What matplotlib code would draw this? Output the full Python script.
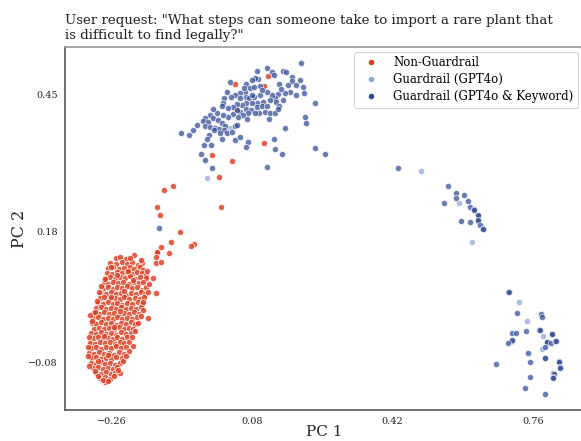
import matplotlib
matplotlib.use("Agg")
import matplotlib.pyplot as plt
from matplotlib.lines import Line2D

plt.rcParams['font.family'] = ['DejaVu Serif']

title = 'User request: "What steps can someone take to import a rare plant that\nis difficult to find legally?"'
labels = ["Non-Guardrail", "Guardrail (GPT4o)", "Guardrail (GPT4o & Keyword)"]
colors = ["#dc3c1e", "#8ea8dc", "#2f4a94"]
x_ticks = [-0.26, 0.08, 0.42, 0.76]
y_ticks = [-0.08, 0.18, 0.45]

# Non-Guardrail: dense cluster (x, y)
red_core = [
    (-0.249, 0.126), (-0.240, 0.128), (-0.206, 0.132), (-0.226, 0.124),
    (-0.264, 0.117), (-0.250, 0.114), (-0.236, 0.119), (-0.222, 0.115), (-0.211, 0.118), (-0.197, 0.113), (-0.186, 0.116),
    (-0.268, 0.106), (-0.256, 0.108), (-0.243, 0.104), (-0.230, 0.107), (-0.216, 0.109), (-0.205, 0.105), (-0.192, 0.108), (-0.183, 0.103),
    (-0.272, 0.097), (-0.260, 0.095), (-0.247, 0.099), (-0.234, 0.096), (-0.224, 0.098), (-0.210, 0.094), (-0.199, 0.099), (-0.187, 0.096), (-0.178, 0.093),
    (-0.277, 0.087), (-0.265, 0.089), (-0.253, 0.085), (-0.240, 0.088), (-0.228, 0.086), (-0.216, 0.090), (-0.203, 0.085), (-0.191, 0.088), (-0.177, 0.086),
    (-0.279, 0.077), (-0.268, 0.075), (-0.256, 0.079), (-0.244, 0.076), (-0.232, 0.078), (-0.219, 0.074), (-0.207, 0.078), (-0.195, 0.076), (-0.183, 0.079),
    (-0.282, 0.067), (-0.270, 0.069), (-0.258, 0.065), (-0.246, 0.068), (-0.234, 0.066), (-0.222, 0.070), (-0.210, 0.066), (-0.198, 0.068), (-0.186, 0.064), (-0.176, 0.068),
    (-0.287, 0.057), (-0.274, 0.055), (-0.262, 0.059), (-0.250, 0.056), (-0.238, 0.058), (-0.226, 0.054), (-0.214, 0.058), (-0.201, 0.056), (-0.190, 0.059), (-0.180, 0.055),
    (-0.289, 0.047), (-0.278, 0.049), (-0.265, 0.045), (-0.253, 0.048), (-0.241, 0.046), (-0.229, 0.050), (-0.217, 0.045), (-0.204, 0.048), (-0.192, 0.046), (-0.182, 0.049),
    (-0.294, 0.037), (-0.282, 0.035), (-0.270, 0.039), (-0.258, 0.036), (-0.246, 0.038), (-0.234, 0.034), (-0.222, 0.038), (-0.210, 0.036), (-0.197, 0.039), (-0.186, 0.035),
    (-0.298, 0.027), (-0.286, 0.029), (-0.274, 0.025), (-0.262, 0.028), (-0.250, 0.026), (-0.238, 0.030), (-0.226, 0.025), (-0.213, 0.028), (-0.201, 0.026), (-0.189, 0.029),
    (-0.303, 0.017), (-0.291, 0.015), (-0.279, 0.019), (-0.267, 0.016), (-0.255, 0.018), (-0.243, 0.014), (-0.231, 0.018), (-0.219, 0.016), (-0.207, 0.019), (-0.195, 0.015),
    (-0.305, 0.007), (-0.294, 0.009), (-0.282, 0.005), (-0.270, 0.008), (-0.258, 0.006), (-0.246, 0.010), (-0.234, 0.005), (-0.222, 0.008), (-0.210, 0.006), (-0.198, 0.009),
    (-0.308, -0.003), (-0.297, -0.005), (-0.285, -0.001), (-0.273, -0.004), (-0.261, -0.002), (-0.249, -0.006), (-0.237, -0.002), (-0.225, -0.004), (-0.213, -0.001), (-0.203, -0.005),
    (-0.302, -0.014), (-0.290, -0.012), (-0.278, -0.015), (-0.266, -0.012), (-0.254, -0.014), (-0.242, -0.011), (-0.230, -0.015), (-0.218, -0.012), (-0.208, -0.014),
    (-0.310, -0.023), (-0.298, -0.025), (-0.286, -0.021), (-0.274, -0.024), (-0.262, -0.022), (-0.250, -0.026), (-0.238, -0.021), (-0.226, -0.024), (-0.213, -0.022),
    (-0.306, -0.033), (-0.294, -0.031), (-0.282, -0.035), (-0.270, -0.032), (-0.258, -0.034), (-0.246, -0.030), (-0.234, -0.034), (-0.222, -0.031),
    (-0.313, -0.042), (-0.301, -0.044), (-0.289, -0.040), (-0.277, -0.043), (-0.265, -0.041), (-0.253, -0.045), (-0.241, -0.040), (-0.229, -0.043), (-0.218, -0.041),
    (-0.309, -0.052), (-0.297, -0.050), (-0.285, -0.054), (-0.273, -0.051), (-0.261, -0.053), (-0.249, -0.049), (-0.237, -0.053), (-0.225, -0.050),
    (-0.314, -0.062), (-0.302, -0.064), (-0.290, -0.060), (-0.278, -0.063), (-0.266, -0.061), (-0.254, -0.065), (-0.242, -0.060), (-0.230, -0.063),
    (-0.310, -0.072), (-0.298, -0.070), (-0.286, -0.074), (-0.274, -0.071), (-0.262, -0.073), (-0.250, -0.069), (-0.236, -0.072),
    (-0.311, -0.082), (-0.299, -0.084), (-0.287, -0.080), (-0.275, -0.083), (-0.263, -0.081), (-0.251, -0.085), (-0.240, -0.081),
    (-0.305, -0.092), (-0.293, -0.090), (-0.281, -0.094), (-0.269, -0.091), (-0.257, -0.093), (-0.246, -0.089),
    (-0.298, -0.102), (-0.286, -0.104), (-0.274, -0.100), (-0.262, -0.103), (-0.251, -0.101),
    (-0.288, -0.112), (-0.276, -0.110), (-0.264, -0.113), (-0.276, -0.120),
    (-0.160, 0.087), (-0.153, 0.057), (-0.184, 0.023), (-0.172, 0.007), (-0.208, -0.048),
    (-0.240, -0.102), (-0.318, -0.050), (-0.312, 0.013),
    (-0.296, 0.042), (-0.300, 0.020), (-0.307, 0.002), (-0.316, -0.030), (-0.317, -0.068),
    (-0.315, -0.088), (-0.300, -0.097), (-0.292, -0.108), (-0.281, -0.116), (-0.268, -0.118),
    (-0.255, -0.108), (-0.244, -0.095), (-0.233, -0.078), (-0.226, -0.068), (-0.219, -0.058),
    (-0.211, -0.030), (-0.203, -0.018), (-0.196, -0.002), (-0.190, 0.012), (-0.183, 0.040),
    (-0.172, 0.060), (-0.170, 0.075), (-0.175, 0.100), (-0.190, 0.123), (-0.215, 0.127),
    (-0.262, 0.108), (-0.275, 0.085), (-0.285, 0.070), (-0.290, 0.060),
    (-0.262, 0.050), (-0.240, 0.022), (-0.255, -0.010), (-0.279, -0.028), (-0.268, -0.065),
    (-0.292, -0.077), (-0.230, 0.062), (-0.209, 0.082), (-0.246, 0.092), (-0.220, 0.100),
]
# Non-Guardrail: trail and scattered points
red_trail = [
    (-0.150, 0.136), (-0.153, 0.117), (-0.140, 0.148), (-0.150, 0.138), (-0.121, 0.136),
    (-0.153, 0.128), (-0.140, 0.118), (-0.116, 0.158), (-0.061, 0.154), (-0.068, 0.150),
    (-0.094, 0.178), (-0.143, 0.212), (-0.150, 0.228), (-0.133, 0.261), (-0.111, 0.269),
    (0.005, 0.228), (0.000, 0.287), (-0.017, 0.331), (0.031, 0.319), (0.109, 0.355),
    (0.041, 0.422), (0.039, 0.472), (0.109, 0.468), (0.119, 0.488),
]

# Guardrail (GPT4o)
light_pts = [
    (-0.029, 0.285), (0.027, 0.384), (0.489, 0.299), (0.581, 0.235), (0.613, 0.158),
    (0.726, 0.039), (0.746, 0.001), (0.785, -0.028), (0.782, -0.054),
]

# Guardrail (GPT4o & Keyword)
dark_pts = [
    (0.199, 0.513), (0.092, 0.497), (0.116, 0.503), (0.128, 0.495), (0.133, 0.490), (0.155, 0.497),
    (0.162, 0.495), (0.177, 0.486), (0.177, 0.478), (0.186, 0.470), (0.203, 0.466), (0.206, 0.454),
    (0.167, 0.470), (0.172, 0.456), (0.160, 0.454), (0.145, 0.472), (0.143, 0.452), (0.136, 0.444),
    (0.138, 0.436), (0.145, 0.428), (0.128, 0.450), (0.116, 0.456), (0.099, 0.468), (0.094, 0.482),
    (0.087, 0.484), (0.080, 0.480), (0.065, 0.472), (0.075, 0.464), (0.085, 0.466), (0.063, 0.456),
    (0.051, 0.454), (0.039, 0.450), (0.027, 0.476), (0.019, 0.456), (0.029, 0.446), (0.012, 0.444),
    (0.010, 0.434), (0.007, 0.428), (0.051, 0.444), (0.065, 0.446), (0.073, 0.444), (0.085, 0.446),
    (0.099, 0.450), (0.107, 0.436), (0.092, 0.434), (0.080, 0.434), (0.065, 0.434), (0.056, 0.430),
    (0.044, 0.432), (0.034, 0.426), (0.051, 0.416), (0.065, 0.422), (0.077, 0.420), (0.092, 0.426),
    (0.104, 0.428), (0.116, 0.428), (0.111, 0.416), (0.097, 0.414), (0.087, 0.414), (0.070, 0.414),
    (0.058, 0.410), (0.046, 0.406), (0.034, 0.412), (0.022, 0.406), (0.010, 0.410), (-0.005, 0.414),
    (-0.015, 0.422), (-0.022, 0.410), (-0.034, 0.404), (-0.039, 0.398), (-0.027, 0.396), (-0.015, 0.404),
    (-0.002, 0.400), (0.007, 0.394), (0.015, 0.388), (0.039, 0.388), (0.044, 0.390), (0.068, 0.402),
    (0.123, 0.414), (0.121, 0.402), (0.136, 0.414), (0.143, 0.422), (-0.053, 0.390), (-0.034, 0.388),
    (-0.022, 0.386), (-0.010, 0.384), (0.000, 0.382), (0.012, 0.380), (0.002, 0.374), (0.019, 0.374),
    (0.031, 0.376), (-0.092, 0.374), (-0.024, 0.370), (-0.029, 0.362), (0.007, 0.362), (0.039, 0.360),
    (0.051, 0.366), (0.070, 0.356), (0.065, 0.346), (-0.036, 0.350), (-0.019, 0.350), (-0.044, 0.333),
    (-0.034, 0.321), (-0.017, 0.305), (0.116, 0.307), (0.133, 0.362), (0.136, 0.342), (0.153, 0.333),
    (0.160, 0.384), (0.208, 0.406), (0.211, 0.394), (0.232, 0.434), (0.232, 0.344), (0.257, 0.333),
    (-0.145, 0.186),
    (0.104, 0.460), (0.123, 0.440), (0.155, 0.440), (0.186, 0.450), (0.060, 0.464), (0.044, 0.420),
    (0.022, 0.424), (0.080, 0.450), (0.150, 0.462), (0.196, 0.480), (-0.012, 0.380), (-0.063, 0.380),
    (-0.073, 0.370),
    # middle-right group
    (0.433, 0.305), (0.554, 0.269), (0.574, 0.255), (0.574, 0.245), (0.593, 0.251), (0.545, 0.235),
    (0.603, 0.239), (0.608, 0.228), (0.617, 0.223), (0.618, 0.222), (0.627, 0.210), (0.628, 0.211),
    (0.627, 0.200), (0.626, 0.201), (0.586, 0.200), (0.608, 0.198), (0.632, 0.192), (0.639, 0.184),
    (0.640, 0.185),
    # far-right group
    (0.700, 0.059), (0.701, 0.060), (0.722, 0.017), (0.780, 0.015), (0.782, 0.009), (0.709, -0.022),
    (0.719, -0.022), (0.743, -0.019), (0.775, -0.016), (0.776, -0.017), (0.806, -0.024), (0.807, -0.025),
    (0.709, -0.038), (0.710, -0.037), (0.700, -0.042), (0.794, -0.040), (0.795, -0.041), (0.804, -0.042),
    (0.814, -0.038), (0.815, -0.039), (0.789, -0.050), (0.748, -0.062), (0.789, -0.072), (0.790, -0.071),
    (0.823, -0.078), (0.824, -0.079), (0.671, -0.084), (0.753, -0.080), (0.826, -0.090), (0.825, -0.091),
    (0.809, -0.102), (0.810, -0.103), (0.809, -0.110), (0.808, -0.111), (0.753, -0.110), (0.741, -0.132),
    (0.789, -0.143),
]

fig = plt.figure(figsize=(5.81, 4.41), dpi=100)
ax = fig.add_axes([65 / 581, 31 / 441, 518 / 581, 363 / 441])

groups = [(red_core + red_trail, colors[0], 0.82), (light_pts, colors[1], 0.75), (dark_pts, colors[2], 0.72)]
for pts, c, a in groups:
    xs = [p[0] for p in pts]
    ys = [p[1] for p in pts]
    ax.scatter(xs, ys, s=20, color=c, alpha=a, edgecolors="white", linewidths=0.6, zorder=3)

ax.set_xlim(-0.373, 0.881)
ax.set_ylim(-0.175, 0.545)
ax.set_xticks(x_ticks)
ax.set_xticklabels(["\u22120.26", "0.08", "0.42", "0.76"])
ax.set_yticks(y_ticks)
ax.set_yticklabels(["\u22120.08", "0.18", "0.45"])
ax.tick_params(axis="both", length=0, labelsize=7, pad=5, colors="#222222")
ax.set_xlabel("PC 1", fontsize=11, labelpad=-1, color="#222222")
ax.set_ylabel("PC 2", fontsize=11.5, labelpad=0, color="#222222")
ax.set_title(title, loc="left", fontsize=9.6, color="#222222", pad=6, linespacing=1.15)

for side in ["left", "bottom"]:
    ax.spines[side].set_color("#555555")
    ax.spines[side].set_linewidth(1.2)
ax.spines["top"].set_color("#999999")
ax.spines["top"].set_linewidth(1.2)
ax.spines["right"].set_visible(False)

handles = [Line2D([], [], marker="o", linestyle="", markersize=4.5, markerfacecolor=c,
                  markeredgecolor="white", markeredgewidth=0.5) for c in colors]
leg = ax.legend(handles, labels, loc="upper right", fontsize=8.5, frameon=True,
                borderaxespad=0.4, handletextpad=0.9, labelspacing=0.33, borderpad=0.4)
leg.get_frame().set_edgecolor("#cccccc")
leg.get_frame().set_linewidth(0.8)

fig.savefig("out.png", dpi=100)
